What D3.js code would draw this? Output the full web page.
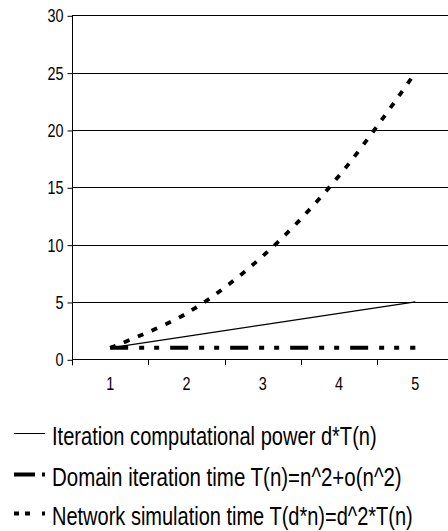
<!DOCTYPE html>
<html>
<head>
<meta charset="utf-8">
<script src="https://cdn.jsdelivr.net/npm/d3@7"></script>
<style>
  html, body { margin: 0; padding: 0; background: #fff; }
  svg { display: block; }
  text { font-family: "Liberation Sans", Arial, sans-serif; fill: #000; }
</style>
</head>
<body>
<svg id="chart" width="448" height="531"></svg>
<script>
const categories = [1, 2, 3, 4, 5];
const iterationPower = [1, 2, 3, 4, 5];
const domainTime = [1, 1, 1, 1, 1];
const networkTime = [1, 4, 9, 16, 25];
const yTicks = [0, 5, 10, 15, 20, 25, 30];
const legendLabels = [
  "Iteration computational power d*T(n)",
  "Domain iteration time T(n)=n^2+o(n^2)",
  "Network simulation time T(d*n)=d^2*T(n)"
];

const svg = d3.select("#chart");
const left = 72, bandW = 76.3;
const x = d3.scaleBand().domain(categories).range([left, left + bandW * categories.length]).padding(0);
const y = d3.scaleLinear().domain([0, 30]).range([359.3, 15.3]);
const cx = d => x(d) + x.bandwidth() / 2;

function narrow(sel, f) {
  sel.each(function () {
    const w = this.getComputedTextLength();
    d3.select(this).attr("textLength", w * f).attr("lengthAdjust", "spacingAndGlyphs");
  });
}

// gridlines
svg.append("g").selectAll("line").data(yTicks.filter(t => t > 0)).join("line")
  .attr("x1", left).attr("x2", 448)
  .attr("y1", d => Math.round(y(d)) + 0.5).attr("y2", d => Math.round(y(d)) + 0.5)
  .attr("stroke", "#000").attr("stroke-width", 1);

// y axis
const yAxis = d3.axisLeft(y).tickValues(yTicks).tickSize(5).tickPadding(4).tickFormat(d3.format("d"));
const gy = svg.append("g").attr("transform", `translate(${left + 0.5},0)`).call(yAxis);
gy.select(".domain").attr("d", `M0,${y(30)}V${y(0) + 6}`).attr("stroke", "#000");
gy.selectAll(".tick line").attr("stroke", "#000").attr("transform", "translate(0,0.5)");
gy.selectAll("text").attr("font-size", 18).attr("font-family", "Liberation Sans, Arial, sans-serif").attr("dy", "0.36em").call(narrow, 0.8);

// x axis
const xAxis = d3.axisBottom(x).tickSize(0).tickPadding(18);
const gx = svg.append("g").attr("transform", `translate(0,${Math.round(y(0)) + 0.5})`).call(xAxis);
gx.select(".domain").attr("d", `M${left},0H448`).attr("stroke", "#000");
gx.selectAll("text").attr("font-size", 18).attr("font-family", "Liberation Sans, Arial, sans-serif").call(narrow, 0.8);
// category boundary ticks
svg.append("g").selectAll("line").data(categories.slice(1)).join("line")
  .attr("x1", d => Math.round(x(d)) + 0.5).attr("x2", d => Math.round(x(d)) + 0.5)
  .attr("y1", Math.round(y(0))).attr("y2", Math.round(y(0)) + 6)
  .attr("stroke", "#000");

// series
const lineStraight = d3.line().x((d, i) => cx(categories[i])).y(d => y(d));
const lineSmooth = d3.line().x((d, i) => cx(categories[i])).y(d => y(d)).curve(d3.curveCatmullRom.alpha(0.5));

svg.append("path").attr("d", lineStraight(domainTime))
  .attr("fill", "none").attr("stroke", "#000").attr("stroke-width", 4)
  .attr("stroke-dasharray", "18,11,5,10,5,11");

svg.append("path").attr("d", lineStraight(iterationPower))
  .attr("fill", "none").attr("stroke", "#000").attr("stroke-width", 1.2);

svg.append("path").attr("d", lineSmooth(networkTime))
  .attr("fill", "none").attr("stroke", "#000").attr("stroke-width", 3.8)
  .attr("stroke-dasharray", "6,9");

// legend
const legendRows = [
  { y: 433, width: 1, dash: null, len: 325 },
  { y: 474, width: 4, dash: "21,7,3,100", len: 350 },
  { y: 513, width: 4, dash: "5,6,5,12,3,100", len: 361 }
];
const lg = svg.append("g");
legendRows.forEach((r, i) => {
  lg.append("line").attr("x1", 14).attr("x2", 45).attr("y1", r.y + 0.5).attr("y2", r.y + 0.5)
    .attr("stroke", "#000").attr("stroke-width", r.width)
    .attr("stroke-dasharray", r.dash);
  const t = lg.append("text").attr("x", 0).attr("y", 0).attr("font-size", 25)
    .text(legendLabels[i]);
  const w = t.node().getComputedTextLength();
  t.attr("transform", `translate(52,${r.y + 12}) scale(${r.len / w},1)`);
});
</script>
</body>
</html>
